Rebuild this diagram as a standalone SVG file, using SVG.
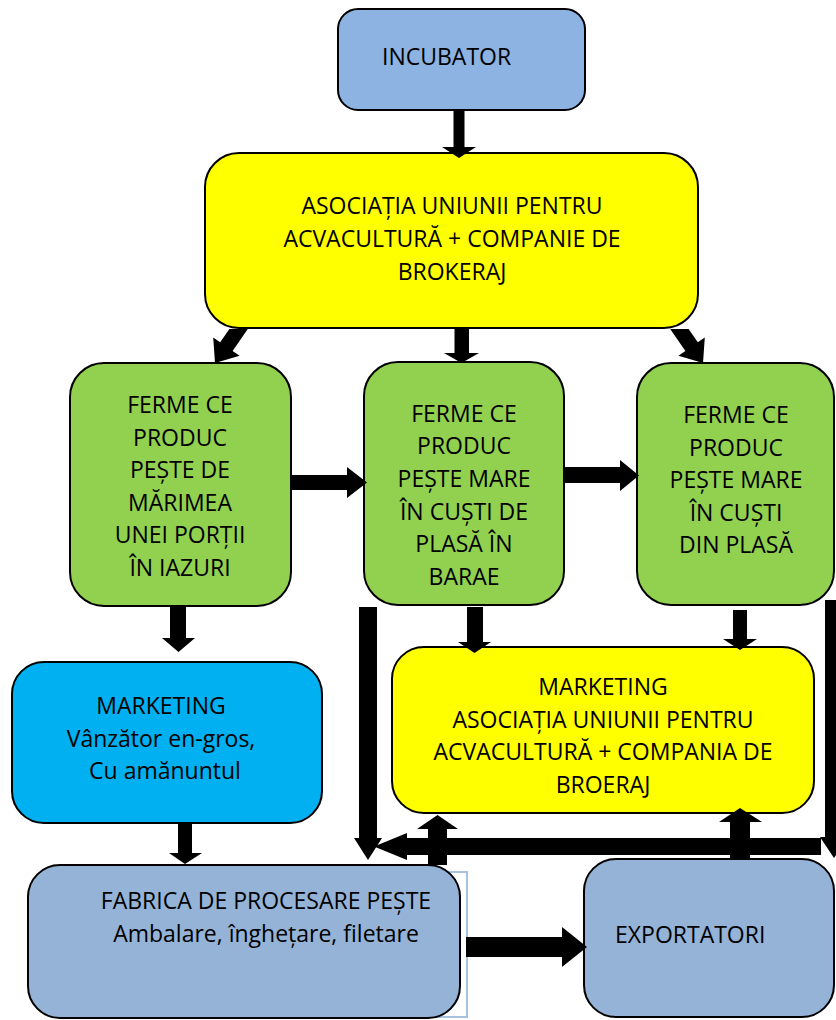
<svg xmlns="http://www.w3.org/2000/svg" width="836" height="1020" viewBox="0 0 836 1020">
<style>
.box{stroke:#000;stroke-width:2}
.t{font-family:"Open Sans","Noto Sans","Liberation Sans",sans-serif;font-size:23px;fill:#000}
.c{text-anchor:middle}
.arr{fill:#000;stroke:none}
</style>
<rect width="836" height="1020" fill="#fff"/>
<g id="incubator">
<rect class="box" x="338" y="9" width="247" height="101" rx="20" fill="#8DB3E2"/>
<text class="t" x="382" y="65">INCUBATOR</text>
</g>
<g id="asociatia">
<rect class="box" x="205" y="153" width="493" height="175" rx="34" fill="#FFFF00"/>
<text class="t c" x="452" y="214">ASOCIAȚIA UNIUNII PENTRU</text>
<text class="t c" x="452" y="247">ACVACULTURĂ + COMPANIE DE</text>
<text class="t c" x="452" y="280">BROKERAJ</text>
</g>
<g id="ferme-iazuri">
<rect class="box" x="70" y="363" width="221" height="243" rx="34" fill="#92D050"/>
<text class="t c" x="180" y="413">FERME CE</text>
<text class="t c" x="180" y="445.5">PRODUC</text>
<text class="t c" x="180" y="478">PEȘTE DE</text>
<text class="t c" x="180" y="510.5">MĂRIMEA</text>
<text class="t c" x="180" y="543">UNEI PORȚII</text>
<text class="t c" x="180" y="575.5">ÎN IAZURI</text>
</g>
<g id="ferme-barae">
<rect class="box" x="364" y="362" width="200" height="243" rx="34" fill="#92D050"/>
<text class="t c" x="464" y="421.5">FERME CE</text>
<text class="t c" x="464" y="454.2">PRODUC</text>
<text class="t c" x="464" y="486.9">PEȘTE MARE</text>
<text class="t c" x="464" y="519.6">ÎN CUȘTI DE</text>
<text class="t c" x="464" y="552.3">PLASĂ ÎN</text>
<text class="t c" x="464" y="585">BARAE</text>
</g>
<g id="ferme-plasa">
<rect class="box" x="637" y="363" width="197" height="242" rx="34" fill="#92D050"/>
<text class="t c" x="736" y="423">FERME CE</text>
<text class="t c" x="736" y="455.6">PRODUC</text>
<text class="t c" x="736" y="488.2">PEȘTE MARE</text>
<text class="t c" x="736" y="520.8">ÎN CUȘTI</text>
<text class="t c" x="736" y="553.4">DIN PLASĂ</text>
</g>
<g id="marketing-vanzator">
<rect class="box" x="12" y="662" width="310" height="161" rx="32" fill="#00B0F0"/>
<text class="t c" x="161" y="714">MARKETING</text>
<text class="t c" x="161" y="746.5">Vânzător en-gros,</text>
<text class="t c" x="165" y="779">Cu amănuntul</text>
</g>
<g id="marketing-asociatia">
<rect class="box" x="392" y="647" width="422" height="166" rx="32" fill="#FFFF00"/>
<text class="t c" x="603" y="695">MARKETING</text>
<text class="t c" x="603" y="727.5">ASOCIAȚIA UNIUNII PENTRU</text>
<text class="t c" x="603" y="760">ACVACULTURĂ + COMPANIA DE</text>
<text class="t c" x="603" y="792.5">BROERAJ</text>
</g>
<g id="fabrica">
<rect x="60" y="872" width="407" height="145" fill="none" stroke="#A7C1E1" stroke-width="2"/>
<rect class="box" x="28" y="865" width="432" height="153" rx="32" fill="#95B3D7"/>
<text class="t c" x="266" y="909">FABRICA DE PROCESARE PEȘTE</text>
<text class="t c" x="266" y="941.5">Ambalare, înghețare, filetare</text>
</g>
<g id="exportatori">
<rect class="box" x="584" y="859" width="250" height="158" rx="32" fill="#95B3D7"/>
<text class="t" x="615" y="943">EXPORTATORI</text>
</g>
<g id="connectors">
<polygon class="arr" points="453.5,111 464.5,111 464.5,147 476,147 459,158 442,147 453.5,147"/>
<polygon class="arr" points="454.5,329 469,329 469,353 479,353 461.5,363 444,353 454.5,353"/>
<polygon class="arr" points="247.8,329 232.6,350.9 239.6,355.7 215,363 213.2,337.5 220.2,342.3 229.4,329"/>
<polygon class="arr" points="670.2,329 685.4,350.9 678.4,355.7 703,363 704.8,337.5 697.8,342.3 688.6,329"/>
<polygon class="arr" points="291,475 347,475 347,467 367,482.5 347,498 347,490 291,490"/>
<polygon class="arr" points="565,467 620,467 620,460 639,475.5 620,491 620,483 565,483"/>
<polygon class="arr" points="170,607 186,607 186,638 195,638 178.5,652 162,638 170,638"/>
<polygon class="arr" points="178,824 192,824 192,853 202,853 185,864 169,853 178,853"/>
<polygon class="arr" points="467,607 483,607 483,642 491,642 474.5,653 458,642 467,642"/>
<polygon class="arr" points="733,610 747,610 747,639 757,639 740,650 723,639 733,639"/>
<polygon class="arr" points="359,607 377,607 377,838 382,838 368,860 354,838 359,838"/>
<polygon class="arr" points="821,838 821,855 407,855 407,860 374,846.5 407,833 407,838"/>
<polygon class="arr" points="825,600 843,600 843,837 848,837 834,858 820,837 825,837"/>
<polygon class="arr" points="428,865 447,865 447,829 458,829 437.5,815 417,829 428,829"/>
<polygon class="arr" points="730,859 750,859 750,822 762,822 740,808 719,822 730,822"/>
<polygon class="arr" points="466,937 562,937 562,927 587,947 562,967 562,957 466,957"/>
</g>
</svg>
